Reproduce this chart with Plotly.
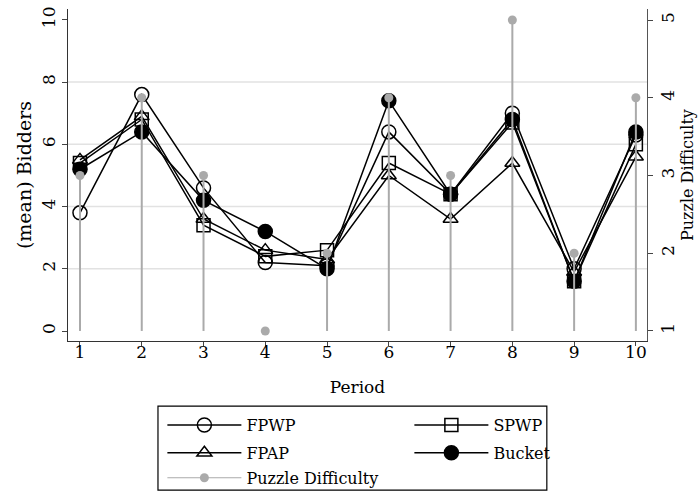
import plotly.graph_objects as go

periods = [1, 2, 3, 4, 5, 6, 7, 8, 9, 10]
fpwp = [3.8, 7.6, 4.6, 2.2, 2.1, 6.4, 4.4, 7.0, 2.0, 6.3]
spwp = [5.4, 6.8, 3.4, 2.4, 2.6, 5.4, 4.4, 6.7, 1.6, 6.0]
fpap = [5.5, 6.9, 3.6, 2.6, 2.3, 5.0, 3.6, 5.4, 1.9, 5.6]
bucket = [5.2, 6.4, 4.2, 3.2, 2.0, 7.4, 4.4, 6.8, 1.6, 6.4]
puzzle = [3, 4, 3, 1, 2, 4, 3, 5, 2, 4]
puzzle_base = 1
left_ticks = [0, 2, 4, 6, 8, 10]
right_ticks = [1, 2, 3, 4, 5]
grid_vals = [2, 4, 6, 8]

FONT = "DejaVu Serif"
GRAY = "#aaaaaa"

fig = go.Figure()

series = [
    ("FPWP", fpwp, "circle-open", "legend"),
    ("SPWP", spwp, "square-open", "legend"),
    ("FPAP", fpap, "triangle-up-open", "legend2"),
    ("Bucket", bucket, "circle", "legend2"),
]
for name, vals, sym, leg in series:
    fig.add_trace(go.Scatter(
        x=periods, y=vals, name=name, mode="lines+markers", legend=leg,
        line=dict(color="black", width=1.5),
        marker=dict(symbol=sym, size=14 if "circle" in sym else 13,
                    color="black", line=dict(color="black", width=1.5)),
    ))

# drop lines for puzzle difficulty
dx, dy = [], []
for p, v in zip(periods, puzzle):
    dx += [p, p, None]
    dy += [puzzle_base, v, None]
fig.add_trace(go.Scatter(x=dx, y=dy, yaxis="y2", mode="lines",
                         line=dict(color=GRAY, width=2),
                         showlegend=False, hoverinfo="skip"))
fig.add_trace(go.Scatter(x=periods, y=puzzle, yaxis="y2", mode="markers",
                         name="Puzzle Difficulty", showlegend=False,
                         marker=dict(color=GRAY, size=9)))
# legend entry: thin grey line with a dot
fig.add_trace(go.Scatter(x=[None], y=[None], yaxis="y2", mode="lines+markers",
                         name="Puzzle Difficulty", legend="legend3",
                         marker=dict(color=GRAY, size=9),
                         line=dict(color=GRAY, width=1)))

shapes = []
for g in grid_vals:
    shapes.append(dict(type="line", xref="paper", x0=0, x1=1, yref="y",
                       y0=g, y1=g, line=dict(color="#e2e2e2", width=1.5),
                       layer="below"))
# legend frame
shapes.append(dict(type="rect", xref="paper", yref="paper",
                   x0=0.1554, x1=0.827, y0=-0.449, y1=-0.196,
                   line=dict(color="black", width=1.2)))

leg_common = dict(orientation="h", x=0.163, xanchor="left", yanchor="top",
                  borderwidth=0, entrywidth=158, entrywidthmode="pixels",
                  itemwidth=74, font=dict(size=16), bgcolor="rgba(0,0,0,0)")

fig.update_layout(
    width=700, height=492,
    margin=dict(l=68, r=53, t=9, b=151, autoexpand=False),
    paper_bgcolor="white", plot_bgcolor="white",
    font=dict(family=FONT, size=16, color="black"),
    shapes=shapes,
    annotations=[dict(text="Puzzle Difficulty", textangle=-90, showarrow=False,
                      xref="paper", yref="paper", x=(687 - 68) / 579, y=0.5,
                      xanchor="center", yanchor="middle",
                      font=dict(size=16))],
    xaxis=dict(range=[0.806, 10.18], tickvals=periods, ticks="outside",
               ticklen=4, showline=True, linecolor="#333", linewidth=1.2,
               showgrid=False, zeroline=False, automargin=False,
               tickfont=dict(size=17), ticklabelstandoff=-9,
               title=dict(text="Period", font=dict(size=17), standoff=20)),
    yaxis=dict(range=[-0.32, 10.35], tickvals=left_ticks, ticks="outside",
               ticklen=5, tickangle=-90, showline=True, linecolor="#333",
               linewidth=1.2, showgrid=False, zeroline=False, automargin=False,
               tickfont=dict(size=17),
               title=dict(text="(mean) Bidders", font=dict(size=19), standoff=2)),
    yaxis2=dict(range=[0.871, 5.142], tickvals=right_ticks, ticks="outside",
                ticklen=5, tickangle=-90, showline=True, linecolor="#555",
                linewidth=1.2, showgrid=False, zeroline=False, automargin=False,
                tickfont=dict(size=17),
                overlaying="y", side="right"),
    legend=dict(y=-0.202, **leg_common),
    legend2=dict(y=-0.286, **leg_common),
    legend3=dict(y=-0.361, **leg_common),
)

fig.write_html("out.html", config={"displayModeBar": False},
               post_script="document.body.style.margin='0px';")
